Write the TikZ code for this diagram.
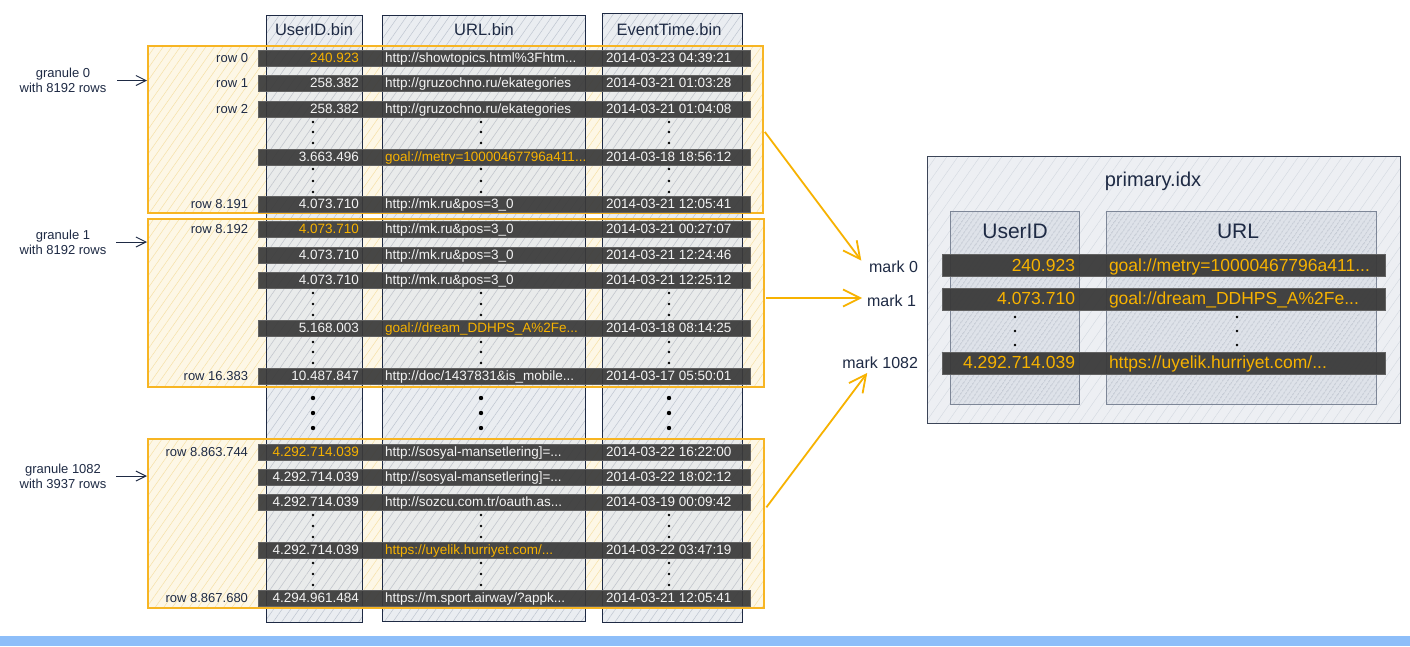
\documentclass[tikz,border=0pt]{standalone}
\usepackage{fontspec}
\setmainfont{Liberation Sans}
\usetikzlibrary{arrows.meta,patterns.meta}

\definecolor{ink}{HTML}{1E2A44}
\definecolor{frame}{HTML}{3C4558}
\definecolor{gold}{HTML}{F7B200}
\definecolor{barfill}{HTML}{3A3A3A}
\definecolor{barline}{HTML}{626262}
\definecolor{colfill}{HTML}{E3E7ED}
\definecolor{colhatch}{HTML}{BEC5D0}
\definecolor{granfill}{HTML}{FDF7E6}
\definecolor{granhatch}{HTML}{F6E0A6}
\definecolor{granline}{HTML}{F7B523}
\definecolor{band}{HTML}{8DBEF9}
\definecolor{panelfill}{HTML}{EDEFF3}
\definecolor{panelhatch}{HTML}{D3D8E0}
\definecolor{innerfill}{HTML}{DEE2E9}
\definecolor{innerhatch}{HTML}{98A1B0}
\definecolor{innerline}{HTML}{7D8697}
\definecolor{celltext}{HTML}{F4F4F4}

% one data row of the three .bin columns
\newcommand\datarow[8]{%
  \node[databar] (bar#1) at (504,#2) {};
  \node[rowlbl, anchor=east] (lbl#1) at (248,#2) {#3};
  \node[cell,#4,anchor=east] (uid#1) at (359,#2) {#5};
  \node[cell,#6,anchor=west] (url#1) at (385,#2) {#7};
  \node[cell,anchor=west] (time#1) at (606,#2) {#8};}

\begin{document}
\begin{tikzpicture}[x=1pt,y=-1pt,
  every node/.style={inner sep=0pt, outer sep=0pt},
  granbox/.style={preaction={fill=granfill},
    preaction={pattern={Lines[angle=55,distance=7pt,line width=0.5pt]}, pattern color=granhatch},
    draw=granline, line width=1.3pt},
  granedge/.style={draw=granline, line width=1.3pt},
  binbox/.style={preaction={fill=colfill, fill opacity=0.75},
    preaction={pattern={Lines[angle=55,distance=7pt,line width=0.5pt]}, pattern color=colhatch},
    draw=ink, line width=0.9pt},
  binhead/.style={text=ink, font=\fontsize{16.5}{18}\selectfont},
  databar/.style={fill=barfill, draw=barline, line width=0.8pt, fill opacity=0.93,
    minimum width=492, minimum height=16},
  cell/.style={text=celltext, font=\fontsize{13.5}{15}\selectfont, text height=9pt, text depth=1pt},
  hl/.style={text=gold},
  nohl/.style={},
  rowlbl/.style={text=ink, font=\fontsize{13}{15}\selectfont, text height=9pt, text depth=1pt},
  granlbl/.style={text=ink, font=\fontsize{13}{15}\selectfont, align=center},
  inkarrow/.style={draw=ink, line width=1pt, -{Straight Barb[length=10pt,width=10pt]}},
  goldarrow/.style={draw=gold, line width=1.8pt, -{Straight Barb[length=17pt,width=17pt]}},
  panel/.style={preaction={fill=panelfill},
    preaction={pattern={Lines[angle=55,distance=9pt,line width=0.4pt]}, pattern color=panelhatch},
    draw=frame, line width=1pt},
  innercol/.style={preaction={fill=innerfill},
    preaction={pattern={Lines[angle=55,distance=4pt,line width=0.5pt]}, pattern color=innerhatch},
    draw=innerline, line width=0.8pt},
  markbar/.style={fill=barfill, draw=barline, line width=1pt, fill opacity=0.95,
    minimum width=443, minimum height=22},
  markcell/.style={text=gold, font=\fontsize{17.5}{19}\selectfont, text height=12pt, text depth=1pt},
  marklbl/.style={text=ink, font=\fontsize{16}{18}\selectfont, text height=11pt, text depth=1pt},
]
\useasboundingbox (0,0) rectangle (1410,646);
\fill[white] (0,0) rectangle (1410,646);
\fill[band] (0,636) rectangle (1410,646);

% granules (fill behind the columns)
\node[granbox, minimum width=615, minimum height=167] (g0) at (455.5,129.5) {};
\node[granbox, minimum width=616, minimum height=168] (g1) at (456,303) {};
\node[granbox, minimum width=616, minimum height=169] (g2) at (456,523.5) {};

% column files
\node[binbox, minimum width=96, minimum height=607] (cu) at (314,318.5) {};
\node[binbox, minimum width=203, minimum height=606] (cl) at (483.5,318) {};
\node[binbox, minimum width=140, minimum height=609] (ct) at (672,317.5) {};
\node[binhead] (hu) at (314,30) {UserID.bin};
\node[binhead] (hl) at (484,30) {URL.bin};
\node[binhead] (ht) at (669,30) {EventTime.bin};

% granule outlines on top of the columns
\foreach \g in {g0,g1,g2}
  \draw[granedge] (\g.north west) rectangle (\g.south east);

% granule 0
\datarow{a0}{58}{row 0}{hl}{240.923}{nohl}{http://showtopics.html\%3Fhtm...}{2014-03-23 04:39:21}
\datarow{a1}{83}{row 1}{nohl}{258.382}{nohl}{http://gruzochno.ru/ekategories}{2014-03-21 01:03:28}
\datarow{a2}{109}{row 2}{nohl}{258.382}{nohl}{http://gruzochno.ru/ekategories}{2014-03-21 01:04:08}
\datarow{a3}{157}{}{nohl}{3.663.496}{hl}{goal://metry=10000467796a411...}{2014-03-18 18:56:12}
\datarow{a4}{204}{row 8.191}{nohl}{4.073.710}{nohl}{http://mk.ru\&pos=3\_0}{2014-03-21 12:05:41}
% granule 1
\datarow{b0}{229}{row 8.192}{hl}{4.073.710}{nohl}{http://mk.ru\&pos=3\_0}{2014-03-21 00:27:07}
\datarow{b1}{255}{}{nohl}{4.073.710}{nohl}{http://mk.ru\&pos=3\_0}{2014-03-21 12:24:46}
\datarow{b2}{280}{}{nohl}{4.073.710}{nohl}{http://mk.ru\&pos=3\_0}{2014-03-21 12:25:12}
\datarow{b3}{328}{}{nohl}{5.168.003}{hl}{goal://dream\_DDHPS\_A\%2Fe...}{2014-03-18 08:14:25}
\datarow{b4}{376}{row 16.383}{nohl}{10.487.847}{nohl}{http://doc/1437831\&is\_mobile...}{2014-03-17 05:50:01}
% granule 1082
\datarow{c0}{452}{row 8.863.744}{hl}{4.292.714.039}{nohl}{http://sosyal-mansetlering]=...}{2014-03-22 16:22:00}
\datarow{c1}{477}{}{nohl}{4.292.714.039}{nohl}{http://sosyal-mansetlering]=...}{2014-03-22 18:02:12}
\datarow{c2}{502}{}{nohl}{4.292.714.039}{nohl}{http://sozcu.com.tr/oauth.as...}{2014-03-19 00:09:42}
\datarow{c3}{550}{}{nohl}{4.292.714.039}{hl}{https://uyelik.hurriyet.com/...}{2014-03-22 03:47:19}
\datarow{c4}{598}{row 8.867.680}{nohl}{4.294.961.484}{nohl}{https://m.sport.airway/?appk...}{2014-03-21 12:05:41}

% elided rows
\foreach \x in {313,481,669}{
  \foreach \y in {122,132,143,169,181,192,293,304,315,342,352,363,515,526,537,563,574,585}
    \fill[black] (\x,\y) circle (1.3);
  \foreach \y in {398,413,428}
    \fill[black] (\x,\y) circle (2.2);
}

% granule captions
\node[granlbl] (gl0) at (63,80.5) {granule 0\\with 8192 rows};
\node[granlbl] (gl1) at (63,242) {granule 1\\with 8192 rows};
\node[granlbl] (gl2) at (63,476) {granule 1082\\with 3937 rows};
\draw[inkarrow, shorten <=11pt, shorten >=1pt] (gl0.east) -- (gl0.east -| g0.west);
\draw[inkarrow, shorten <=10pt, shorten >=1pt] (gl1.east) -- (gl1.east -| g1.west);
\draw[inkarrow, shorten <=10pt, shorten >=1pt] (gl2.east) -- (gl2.east -| g2.west);

% primary index
\node[panel, minimum width=473, minimum height=267] (pidx) at (1163.5,289.5) {};
\node[text=ink, font=\fontsize{20}{22}\selectfont] (ptitle) at (1153,181) {primary.idx};
\node[innercol, minimum width=129, minimum height=193] (pu) at (1015,307.5) {};
\node[innercol, minimum width=270, minimum height=193] (pl) at (1241,307.5) {};
\node[text=ink, font=\fontsize{21}{23}\selectfont] (puh) at (1015,231) {UserID};
\node[text=ink, font=\fontsize{21}{23}\selectfont] (plh) at (1238,231) {URL};

\node[markbar] (mb0) at (1163.5,265.5) {};
\node[markbar] (mb1) at (1163.5,299) {};
\node[markbar] (mb2) at (1163.5,363) {};
\node[markcell, anchor=east] (mu0) at (1075,265.5) {240.923};
\node[markcell, anchor=west] (mr0) at (1109,265.5) {goal://metry=10000467796a411...};
\node[markcell, anchor=east] (mu1) at (1075,299) {4.073.710};
\node[markcell, anchor=west] (mr1) at (1109,299) {goal://dream\_DDHPS\_A\%2Fe...};
\node[markcell, anchor=east] (mu2) at (1075,363) {4.292.714.039};
\node[markcell, anchor=west] (mr2) at (1109,363) {https://uyelik.hurriyet.com/...};
\foreach \x in {1015,1237}
  \foreach \y in {317,331,345}
    \fill[black] (\x,\y) circle (1.4);

\node[marklbl, anchor=east] (m0) at (918,267) {mark 0};
\node[marklbl, anchor=east] (m1) at (916,301) {mark 1};
\node[marklbl, anchor=east] (m2) at (918,363) {mark 1082};

% granule -> mark
\draw[goldarrow, shorten <=3pt, shorten >=3pt] (g0.east) -- ([shift={(-6,-4)}]m0.west);
\draw[goldarrow, shorten <=2pt, shorten >=5pt] ([yshift=5pt]g1.east) -- ([yshift=3pt]m1.west);
\draw[goldarrow, shorten <=4pt, shorten >=5pt] ([yshift=13pt]g2.east) -- ([xshift=-10pt]m2.south);
\end{tikzpicture}
\end{document}
